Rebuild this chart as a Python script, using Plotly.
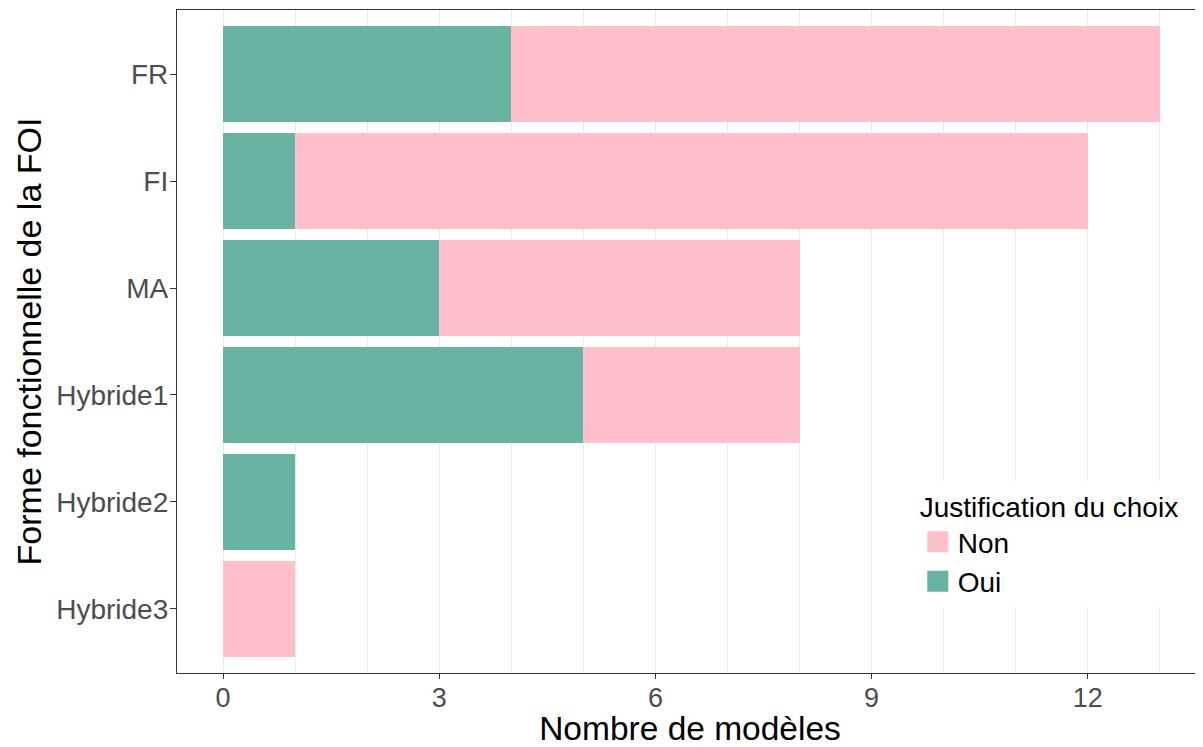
import plotly.graph_objects as go

categories = ["FR", "FI", "MA", "Hybride1", "Hybride2", "Hybride3"]
oui_values = [4, 1, 3, 5, 1, 0]
non_values = [9, 11, 5, 3, 0, 1]
x_tick_values = [0, 3, 6, 9, 12]
x_tick_labels = ["0", "3", "6", "9", "12"]

TEAL = "#69b3a2"
PINK = "#ffc0cb"
FONT = "Liberation Sans, Arial, sans-serif"

fig = go.Figure()
fig.add_trace(go.Bar(
    y=categories, x=oui_values, name="Oui", orientation="h",
    marker=dict(color=TEAL, line=dict(width=0)), width=0.9,
    legendgroup="Oui", showlegend=False,
))
fig.add_trace(go.Bar(
    y=categories, x=non_values, name="Non", orientation="h",
    marker=dict(color=PINK, line=dict(width=0)), width=0.9,
    legendgroup="Non", showlegend=False,
))
# legend keys (larger square swatches, no data drawn)
for name, col in [("Oui", TEAL), ("Non", PINK)]:
    fig.add_trace(go.Scatter(
        x=[None], y=[None], mode="markers", name=name, legendgroup=name,
        marker=dict(symbol="square", size=16, color=col, line=dict(color=col, width=5)),
        hoverinfo="skip",
    ))

fig.update_layout(
    width=1195, height=739,
    barmode="stack",
    plot_bgcolor="white", paper_bgcolor="white",
    margin=dict(l=169, r=0, t=2, b=74),
    font=dict(family=FONT, color="#4d4d4d"),
    legend=dict(
        x=0.722, y=0.29, xanchor="left", yanchor="top",
        bgcolor="white", traceorder="reversed",
        title=dict(text="Justification du choix", font=dict(size=28, color="black")),
        font=dict(size=28, color="black"),
        itemwidth=30, tracegroupgap=0,
    ),
    xaxis=dict(
        range=[-0.64, 13.6],
        tickvals=x_tick_values, ticktext=x_tick_labels,
        tickfont=dict(size=27, color="#4d4d4d"),
        ticks="outside", ticklen=5, tickcolor="#333333",
        ticklabelstandoff=-5,
        showgrid=True, gridcolor="#ebebeb", gridwidth=1,
        minor=dict(dtick=1, tick0=0, showgrid=True, gridcolor="#ebebeb", gridwidth=1, ticks=""),
        showline=True, linecolor="#333333", linewidth=1.3, mirror=True,
        zeroline=False, automargin=False,
        title=dict(text="Nombre de modèles", font=dict(size=33.5, color="black"), standoff=6),
    ),
    yaxis=dict(
        categoryorder="array", categoryarray=categories[::-1],
        range=[-0.6, 5.6],
        tickfont=dict(size=28, color="#4d4d4d"),
        ticks="outside", ticklen=6, tickcolor="#333333",
        ticklabelstandoff=-4,
        showgrid=False,
        showline=True, linecolor="#333333", linewidth=1.3, mirror=False,
        zeroline=False, automargin=False,
        title=dict(text="Forme fonctionnelle de la FOI", font=dict(size=34, color="black"), standoff=4),
    ),
)

fig.write_html("out.html")
